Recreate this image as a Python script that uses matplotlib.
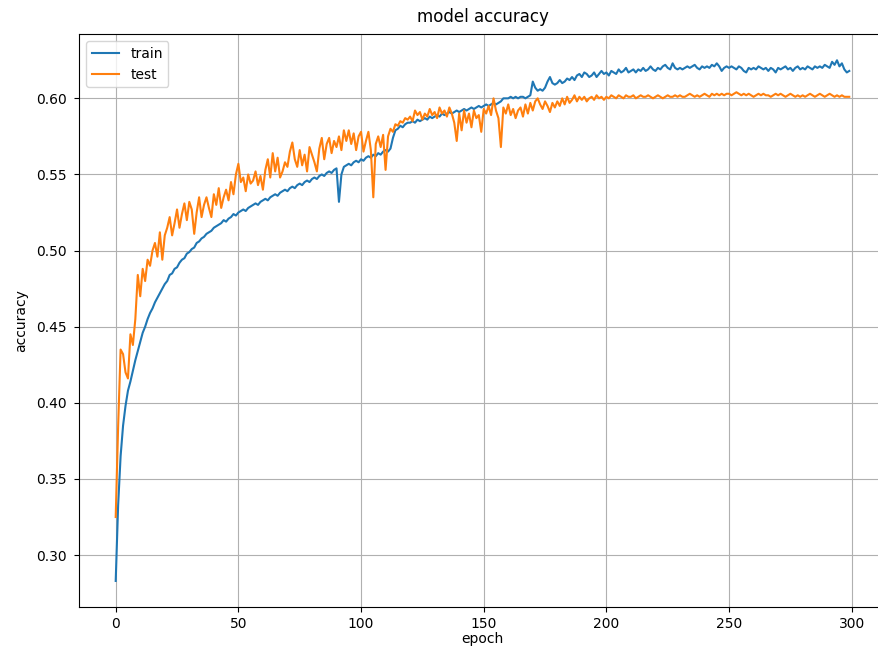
import numpy as np
import matplotlib.pyplot as plt

# accuracy per epoch, 300 epochs
train_acc = [
    0.283, 0.333, 0.365, 0.385, 0.398, 0.408, 0.414, 0.421, 0.428, 0.434,
    0.440, 0.446, 0.450, 0.455, 0.459, 0.462, 0.466, 0.469, 0.472, 0.475,
    0.478, 0.480, 0.484, 0.485, 0.488, 0.489, 0.492, 0.494, 0.495, 0.498,
    0.499, 0.501, 0.502, 0.505, 0.506, 0.508, 0.509, 0.511, 0.512, 0.513,
    0.515, 0.516, 0.517, 0.518, 0.520, 0.519, 0.521, 0.522, 0.524, 0.523,
    0.525, 0.526, 0.527, 0.526, 0.528, 0.529, 0.530, 0.531, 0.530, 0.532,
    0.533, 0.534, 0.533, 0.535, 0.536, 0.537, 0.536, 0.538, 0.539, 0.540,
    0.539, 0.541, 0.542, 0.541, 0.543, 0.544, 0.543, 0.545, 0.546, 0.545,
    0.547, 0.548, 0.547, 0.549, 0.550, 0.549, 0.551, 0.552, 0.551, 0.553,
    0.554, 0.532, 0.550, 0.555, 0.556, 0.557, 0.556, 0.558, 0.559, 0.558,
    0.560, 0.559, 0.561, 0.562, 0.561, 0.563, 0.562, 0.564, 0.563, 0.565,
    0.566, 0.565, 0.567, 0.574, 0.579, 0.580, 0.582, 0.581, 0.583, 0.584,
    0.584, 0.585, 0.584, 0.586, 0.585, 0.586, 0.587, 0.586, 0.588, 0.587,
    0.588, 0.589, 0.588, 0.590, 0.589, 0.590, 0.591, 0.590, 0.591, 0.592,
    0.591, 0.592, 0.593, 0.592, 0.593, 0.594, 0.593, 0.594, 0.595, 0.594,
    0.595, 0.596, 0.595, 0.596, 0.597, 0.596, 0.597, 0.598, 0.600, 0.600,
    0.600, 0.601, 0.600, 0.601, 0.600, 0.601, 0.601, 0.600, 0.601, 0.602,
    0.611, 0.607, 0.605, 0.606, 0.605, 0.607, 0.611, 0.614, 0.610, 0.609,
    0.610, 0.612, 0.610, 0.611, 0.613, 0.612, 0.614, 0.612, 0.615, 0.616,
    0.614, 0.617, 0.616, 0.614, 0.615, 0.617, 0.614, 0.616, 0.618, 0.616,
    0.617, 0.615, 0.618, 0.617, 0.616, 0.619, 0.617, 0.618, 0.620, 0.617,
    0.618, 0.619, 0.617, 0.619, 0.618, 0.620, 0.618, 0.619, 0.621, 0.619,
    0.618, 0.620, 0.619, 0.621, 0.622, 0.620, 0.619, 0.623, 0.620, 0.619,
    0.620, 0.619, 0.620, 0.621, 0.620, 0.621, 0.622, 0.620, 0.619, 0.621,
    0.620, 0.621, 0.620, 0.622, 0.621, 0.623, 0.621, 0.618, 0.620, 0.621,
    0.620, 0.621, 0.620, 0.619, 0.621, 0.620, 0.618, 0.617, 0.620, 0.619,
    0.620, 0.619, 0.621, 0.620, 0.619, 0.620, 0.618, 0.620, 0.619, 0.617,
    0.620, 0.619, 0.620, 0.621, 0.619, 0.620, 0.618, 0.620, 0.621, 0.619,
    0.620, 0.619, 0.621, 0.620, 0.619, 0.621, 0.620, 0.621, 0.620, 0.622,
    0.621, 0.620, 0.624, 0.622, 0.625, 0.621, 0.623, 0.619, 0.617, 0.618,
]

test_acc = [
    0.325, 0.385, 0.435, 0.432, 0.420, 0.416, 0.445, 0.438, 0.455, 0.484,
    0.470, 0.488, 0.480, 0.494, 0.490, 0.500, 0.505, 0.496, 0.512, 0.494,
    0.510, 0.515, 0.522, 0.510, 0.518, 0.527, 0.515, 0.524, 0.531, 0.520,
    0.532, 0.527, 0.511, 0.525, 0.535, 0.522, 0.530, 0.535, 0.528, 0.522,
    0.537, 0.530, 0.541, 0.528, 0.535, 0.540, 0.533, 0.545, 0.537, 0.550,
    0.557, 0.545, 0.548, 0.539, 0.550, 0.544, 0.546, 0.552, 0.543, 0.549,
    0.540, 0.553, 0.560, 0.548, 0.564, 0.552, 0.561, 0.548, 0.552, 0.558,
    0.555, 0.565, 0.571, 0.560, 0.555, 0.566, 0.556, 0.563, 0.552, 0.568,
    0.563, 0.558, 0.552, 0.567, 0.574, 0.560, 0.570, 0.574, 0.564, 0.572,
    0.568, 0.575, 0.566, 0.579, 0.572, 0.579, 0.570, 0.577, 0.566, 0.575,
    0.578, 0.565, 0.572, 0.578, 0.566, 0.535, 0.570, 0.575, 0.568, 0.576,
    0.553, 0.575, 0.580, 0.578, 0.583, 0.582, 0.585, 0.584, 0.587, 0.586,
    0.588, 0.585, 0.592, 0.589, 0.591, 0.586, 0.590, 0.588, 0.593, 0.589,
    0.591, 0.587, 0.594, 0.590, 0.592, 0.588, 0.594, 0.590, 0.584, 0.572,
    0.590, 0.579, 0.592, 0.584, 0.590, 0.581, 0.592, 0.587, 0.589, 0.578,
    0.593, 0.590, 0.595, 0.589, 0.600, 0.592, 0.587, 0.568, 0.594, 0.590,
    0.596, 0.589, 0.593, 0.587, 0.592, 0.594, 0.588, 0.596, 0.590, 0.597,
    0.592, 0.598, 0.600, 0.596, 0.593, 0.598, 0.595, 0.591, 0.597, 0.594,
    0.598, 0.595, 0.600, 0.596, 0.601, 0.597, 0.599, 0.602, 0.598, 0.601,
    0.599, 0.601, 0.598, 0.600, 0.601, 0.599, 0.602, 0.600, 0.601, 0.599,
    0.601, 0.600, 0.602, 0.601, 0.600, 0.602, 0.601, 0.600, 0.602, 0.601,
    0.601, 0.602, 0.600, 0.601, 0.602, 0.601, 0.601, 0.602, 0.601, 0.600,
    0.601, 0.602, 0.601, 0.600, 0.601, 0.602, 0.601, 0.601, 0.602, 0.601,
    0.602, 0.601, 0.601, 0.602, 0.603, 0.602, 0.601, 0.602, 0.601, 0.602,
    0.603, 0.602, 0.601, 0.603, 0.602, 0.603, 0.602, 0.603, 0.602, 0.603,
    0.603, 0.602, 0.603, 0.604, 0.603, 0.602, 0.603, 0.602, 0.603, 0.602,
    0.601, 0.602, 0.603, 0.602, 0.603, 0.602, 0.602, 0.601, 0.602, 0.603,
    0.602, 0.603, 0.602, 0.601, 0.602, 0.603, 0.602, 0.601, 0.602, 0.601,
    0.602, 0.601, 0.602, 0.603, 0.602, 0.601, 0.602, 0.603, 0.602, 0.601,
    0.602, 0.603, 0.602, 0.601, 0.602, 0.601, 0.602, 0.601, 0.601, 0.601,
]

epochs = np.arange(len(train_acc))

fig = plt.figure(figsize=(8.79, 6.46), dpi=100, facecolor="w")
# axes run a little past the right edge of the canvas
ax = fig.add_axes([0.0899, 0.0604, 0.918, 0.8866])
ax.plot(epochs, train_acc, label="train")
ax.plot(epochs, test_acc, label="test")
ax.set_title("model accuracy", pad=9)
ax.set_ylabel("accuracy", labelpad=6)
ax.set_xlabel("epoch", labelpad=1)
ax.set_yticks([0.30, 0.35, 0.40, 0.45, 0.50, 0.55, 0.60])
ax.tick_params(axis="y", pad=5)
ax.spines["right"].set_visible(False)
ax.grid(True)
ax.legend(loc="upper left")

fig.savefig("out.png", dpi=100)
